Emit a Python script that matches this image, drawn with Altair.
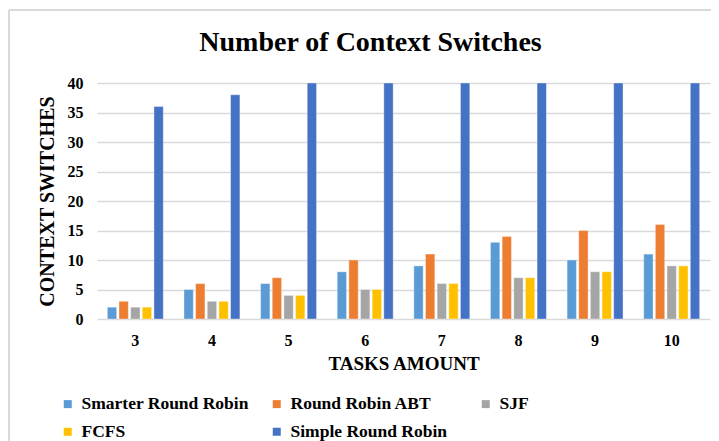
import altair as alt
import pandas as pd

tasks = ["3", "4", "5", "6", "7", "8", "9", "10"]
series = ["Smarter Round Robin", "Round Robin ABT", "SJF", "FCFS", "Simple Round Robin"]
colors = ["#5B9BD5", "#ED7D31", "#A5A5A5", "#FFC000", "#4472C4"]

smarter_rr = [2, 5, 6, 8, 9, 13, 10, 11]
rr_abt = [3, 6, 7, 10, 11, 14, 15, 16]
sjf = [2, 3, 4, 5, 6, 7, 8, 9]
fcfs = [2, 3, 4, 5, 6, 7, 8, 9]
simple_rr = [36, 38, 40, 40, 40, 40, 40, 40]

values = [smarter_rr, rr_abt, sjf, fcfs, simple_rr]
rows = []
for s, vals in zip(series, values):
    for t, v in zip(tasks, vals):
        rows.append({"Tasks": t, "Algorithm": s, "Value": v})
df = pd.DataFrame(rows)

FONT = "Times New Roman, Liberation Serif, serif"
W, H = 613, 236

bars = alt.Chart(df).mark_bar(stroke="#ffffff", strokeWidth=0.6, strokeOpacity=0.6).encode(
    x=alt.X("Tasks:N", sort=tasks, scale=alt.Scale(paddingInner=0.27, paddingOuter=0.135),
            axis=alt.Axis(title="TASKS AMOUNT", labelAngle=0, ticks=False, domain=False,
                          labelPadding=13, titlePadding=6, labelFontSize=16,
                          titleFontSize=19)),
    xOffset=alt.XOffset("Algorithm:N", sort=series, scale=alt.Scale(paddingInner=0.2)),
    y=alt.Y("Value:Q", scale=alt.Scale(domain=[0, 40], clamp=True),
            axis=alt.Axis(title="CONTEXT SWITCHES", values=[0, 5, 10, 15, 20, 25, 30, 35, 40],
                          ticks=False, domain=False, labelPadding=14, titlePadding=10,
                          gridColor="#d9d9d9", gridWidth=1.3, labelFontSize=16,
                          titleFontSize=20)),
    color=alt.Color("Algorithm:N", sort=series,
                    scale=alt.Scale(domain=series, range=colors),
                    legend=alt.Legend(title=None, orient="none", legendX=-38, legendY=312,
                                      columns=3, direction="horizontal", symbolType="square",
                                      symbolSize=64, symbolStrokeWidth=0, columnPadding=19,
                                      rowPadding=9, gridAlign="all", labelOffset=5,
                                      labelFontSize=17.5, labelFont=FONT,
                                      labelFontWeight="bold", labelColor="#000000",
                                      labelLimit=300)),
)

frame_left = alt.Chart(df).mark_rule(color="#d9d9d9", strokeWidth=2).encode(
    x=alt.value(-88), y=alt.value(-73), y2=alt.value(H + 140))
frame_top = alt.Chart(df).mark_rule(color="#d9d9d9", strokeWidth=2).encode(
    x=alt.value(-88), x2=alt.value(W + 30), y=alt.value(-73))

chart = alt.layer(frame_left, frame_top, bars).properties(
    width=W, height=H,
    autosize=alt.AutoSizeParams(type="none"),
    padding={"left": 89, "top": 75, "right": 1, "bottom": 140},
    title=alt.TitleParams("Number of Context Switches", font=FONT, fontSize=28,
                          fontWeight="bold", color="#000000", anchor="middle",
                          dx=-33, offset=-48),
).configure_axis(
    labelFont=FONT, labelFontWeight="bold", labelColor="#000000",
    titleFont=FONT, titleFontWeight="bold", titleColor="#000000",
).configure_axisX(grid=False).configure_view(stroke=None)

chart.save("out.html", embed_options={"renderer": "svg", "actions": False})
